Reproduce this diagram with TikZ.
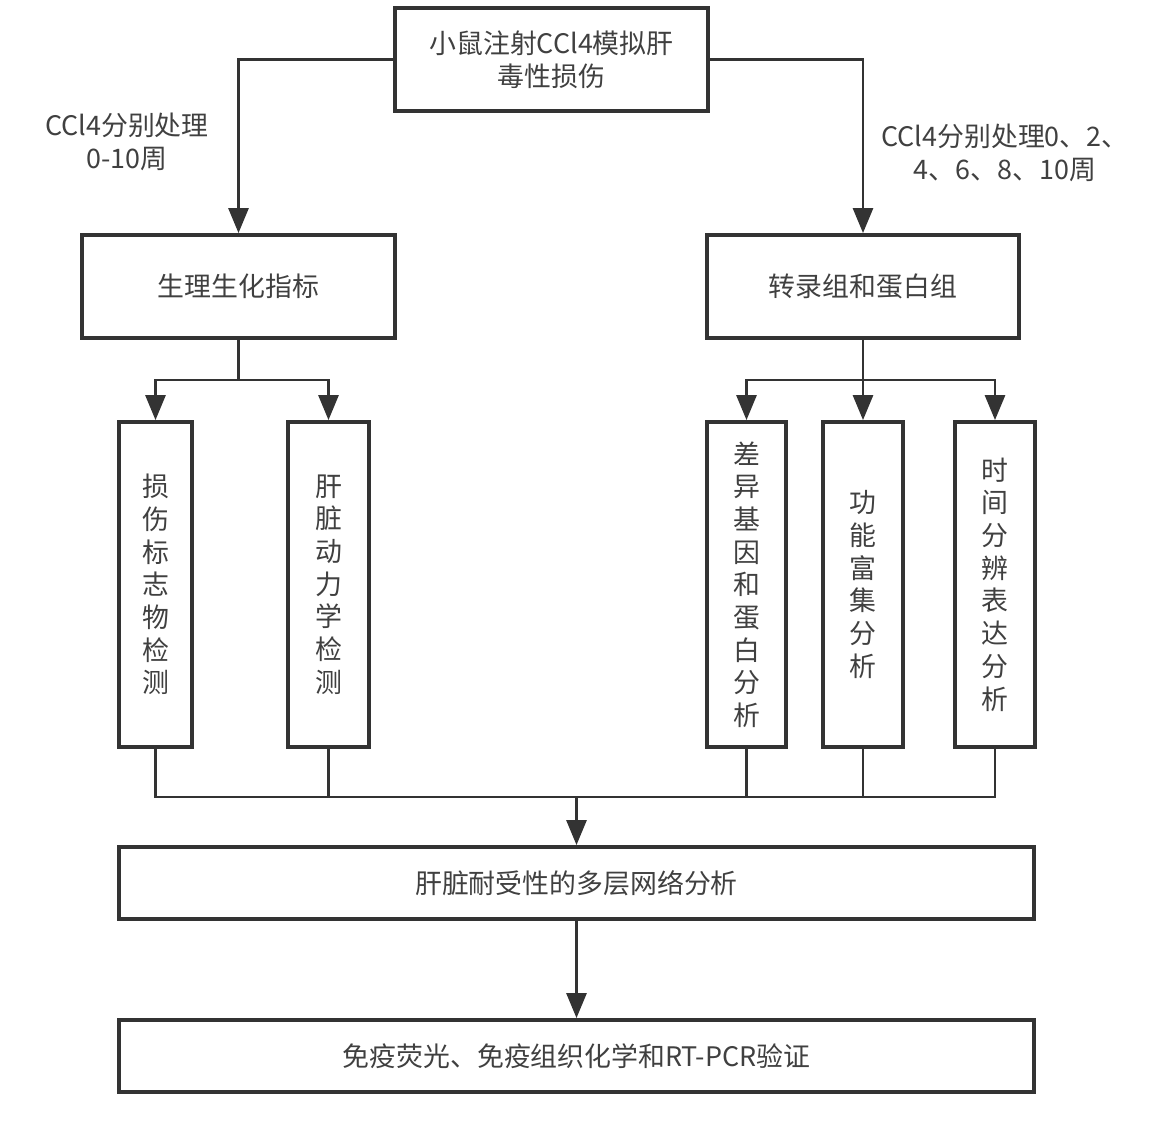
\documentclass[tikz,border=0pt]{standalone}
\usepackage{fontspec}
\usepackage{tikz}
\usetikzlibrary{shadows, positioning, calc, arrows.meta}
\newfontfamily\cjk{Noto Sans CJK SC}
\definecolor{ink}{HTML}{333333}
\definecolor{txt}{HTML}{404040}

\begin{document}
\begin{tikzpicture}[
			x=0.02cm, y=-0.02cm,
			font=\cjk\fontsize{15.3}{18.6}\selectfont,
			box/.style={
					rectangle, draw=ink, line width=2.2pt, fill=white, text=txt,
					align=center, inner sep=2pt,
					drop shadow={opacity=0.25, shadow xshift=1pt, shadow yshift=-1pt}
				},
			wide/.style={box, minimum width=6.26cm, minimum height=2.06cm},
			tall/.style={box, minimum height=6.5cm},
			bar/.style={box, minimum width=18.3cm, minimum height=1.44cm},
			note/.style={align=center, text=txt, inner sep=0pt},
			conn/.style={draw=ink, line width=1.6pt, -{Triangle[length=0.5cm, width=0.4cm]}},
			feed/.style={draw=ink, line width=1.6pt},
			mergeline/.style={draw=ink, line width=1.4pt}
		]
		\useasboundingbox (0,0) rectangle (1160,1132);

		% Top: model
		\node[wide] (inject) at (551.5,59.5) {小鼠注射CCl4模拟肝\\毒性损伤};

		% Two branches
		\node[wide] (physio) at (238.5,286.5) {生理生化指标};
		\node[wide, minimum width=6.24cm] (omics) at (863,286.5) {转录组和蛋白组};

		\node[note] (lblleft) at (127,142) {CCl4分别处理\\0-10周};
		\node[note] (lblright) at (1005,153) {CCl4分别处理0、2、\\4、6、8、10周};

		% Vertical analysis boxes
		\node[tall, minimum width=1.46cm] (marker) at (155.5,584.5) {损\\伤\\标\\志\\物\\检\\测};
		\node[tall, minimum width=1.62cm] (kinetic) at (328.5,584.5) {肝\\脏\\动\\力\\学\\检\\测};
		\node[tall, minimum width=1.58cm] (deg) at (746.5,584.5) {差\\异\\基\\因\\和\\蛋\\白\\分\\析};
		\node[tall, minimum width=1.6cm] (enrich) at (863,584.5) {功\\能\\富\\集\\分\\析};
		\node[tall, minimum width=1.6cm] (timeres) at (995,584.5) {时\\间\\分\\辨\\表\\达\\分\\析};

		% Bottom bars
		\node[bar] (network) at (576.5,883) {肝脏耐受性的多层网络分析};
		\node[bar] (verify) at (576.5,1056) {免疫荧光、免疫组织化学和RT-PCR验证};

		% Split and merge points
		\coordinate (lsplit) at (238.5,380);
		\coordinate (rsplit) at (863,380);
		\coordinate (merge) at (576.5,797);

		% Connectors
		\draw[conn] (inject.west) -| (physio.north);
		\draw[conn] (inject.east) -| (omics.north);

		\draw[feed] (physio.south) -- (lsplit);
		\draw[conn] (lsplit) -| (marker.north);
		\draw[conn] (lsplit) -| (kinetic.north);

		\draw[conn] (omics.south) -- (enrich.north);
		\draw[conn] (rsplit) -| (deg.north);
		\draw[conn] (rsplit) -| (timeres.north);

		\foreach \n in {marker, kinetic, deg, enrich, timeres}
		\draw[mergeline] (\n.south) |- (merge);
		\draw[conn] (merge) -- (network.north);
		\draw[conn] (network) -- (verify);

	\end{tikzpicture}
\end{document}
